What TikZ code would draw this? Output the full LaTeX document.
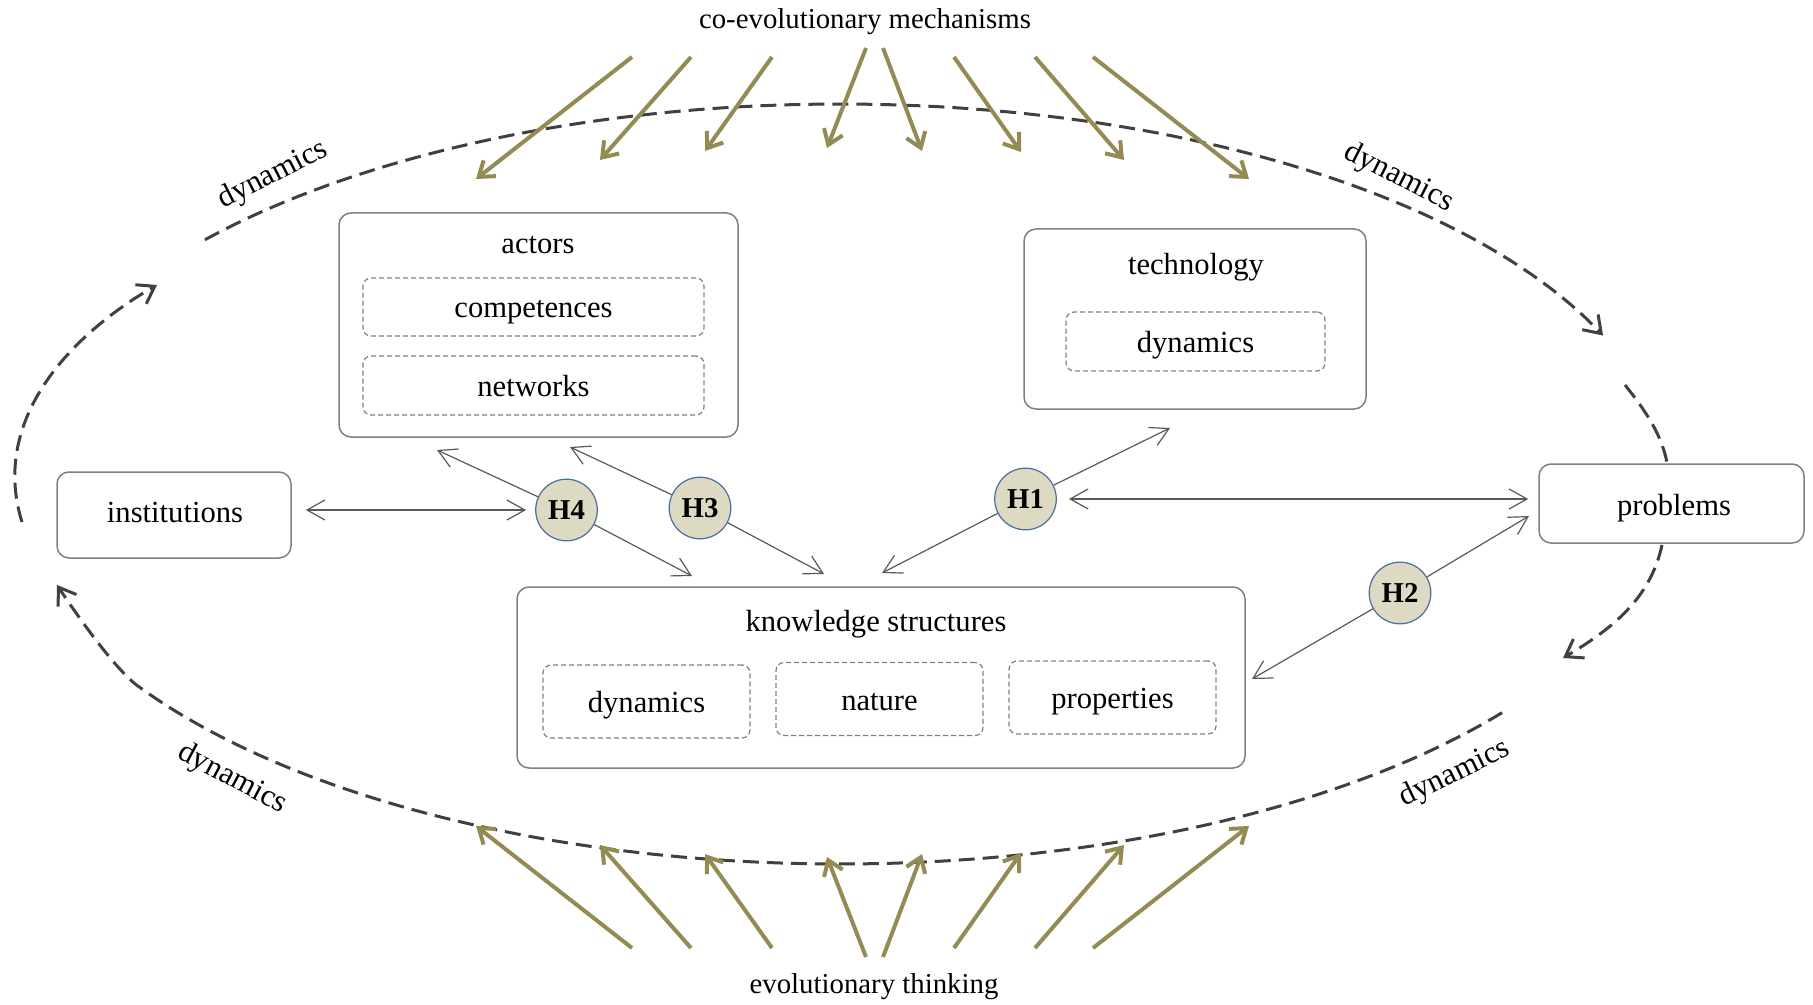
\documentclass[tikz,border=0pt]{standalone}
\usepackage{fontspec}
\setmainfont{Liberation Serif}
\usetikzlibrary{arrows.meta}

\definecolor{boxgray}{HTML}{7F7F7F}
\definecolor{linkgray}{HTML}{595959}
\definecolor{arcgray}{HTML}{404040}
\definecolor{mechol}{HTML}{948A54}
\definecolor{hypfill}{HTML}{DDD9C3}
\definecolor{hypline}{HTML}{4A6FA0}

\tikzset{
  mainbox/.style={draw=boxgray, line width=0.75pt, rounded corners=6pt, inner sep=0pt},
  subbox/.style={draw=boxgray, line width=0.6pt, dash pattern=on 2.5pt off 1.5pt,
    rounded corners=4pt, inner sep=0pt, minimum width=103.5pt, minimum height=36.5pt,
    text height=11pt, text depth=0pt, font=\fontsize{15.3}{18}\selectfont},
  lbl/.style={inner sep=0pt, anchor=base, font=\fontsize{15.3}{18}\selectfont},
  ttl/.style={inner sep=0pt, anchor=base, font=\fontsize{14.4}{17}\selectfont},
  arclbl/.style={inner sep=0pt, font=\fontsize{15.5}{18}\selectfont},
  hyp/.style={circle, draw=hypline, fill=hypfill, line width=0.6pt, minimum size=30.8pt,
    inner sep=0pt, font=\bfseries\fontsize{14.4}{17}\selectfont},
  garrow/.style={draw=linkgray, line width=0.6pt, -{Straight Barb[length=9pt,width=10pt]}},
  gboth/.style={draw=linkgray, line width=0.6pt,
    {Straight Barb[length=9pt,width=10pt]}-{Straight Barb[length=9pt,width=10pt]}},
  mecharrow/.style={draw=mechol, line width=2pt, -{Straight Barb[length=7pt,width=10pt]}},
  darc/.style={draw=arcgray, line width=1.5pt, dash pattern=on 8pt off 4pt},
  darcarrow/.style={darc, -{Straight Barb[length=8pt,width=11pt]}},
}

\begin{document}
\begin{tikzpicture}[x=0.5pt, y=-0.5pt]
\useasboundingbox (0,0) rectangle (1813,1005);

% dynamics cycle around the framework
\def\ecx{840}\def\ecy{484}\def\ea{829}\def\eb{380}
% top: from the left over the mechanisms towards problems
\draw[darcarrow] plot[domain=140:23, samples=90] ({\ecx+\ea*cos(\x)},{\ecy-\eb*sin(\x)});
% short piece entering problems from above
\draw[darc] (1625,385) .. controls (1645,410) and (1662,435) .. (1667,463);
% leaving problems downwards
\draw[darcarrow] (1662,545) .. controls (1650,600) and (1610,630) .. (1563,658);
% bottom: under the evolutionary thinking arrows towards institutions
\draw[darcarrow] plot[domain=-37:-148, samples=100] ({\ecx+\ea*cos(\x)},{\ecy-\eb*sin(\x)})
  .. controls (113,667) and (73.5,610) .. (57,585);
% left: from institutions back up to the top
\draw[darcarrow] (22,522) .. controls (-10,420) and (70,335) .. (157,285);

\node[arclbl, rotate=27]  (dynTL) at (273,175) {dynamics};
\node[arclbl, rotate=-27] (dynTR) at (1399,178) {dynamics};
\node[arclbl, rotate=-28] (dynBL) at (232,779) {dynamics};
\node[arclbl, rotate=26]  (dynBR) at (1455,774) {dynamics};

% titles
\node[ttl] (coevo) at (865,29) {co-evolutionary mechanisms};
\node[ttl] (evoth) at (874,993) {evolutionary thinking};

% mechanism arrows (top) and evolutionary thinking arrows (bottom)
\foreach \i/\sx/\sy/\ex/\ey in {1/632/57/476/179, 2/691/57/600/160, 3/772/57/705/151,
    4/866/48/827/148, 5/883/48/922/151, 6/954/57/1021/152, 7/1035/57/1124/160,
    8/1093/57/1249/179} {
  \coordinate (mt\i) at (\sx,\sy);
  \coordinate (mh\i) at (\ex,\ey);
  \draw[mecharrow] (mt\i) -- (mh\i);
  \coordinate (et\i) at (\sx,{1005-\sy});
  \coordinate (eh\i) at (\ex,{1005-\ey});
  \draw[mecharrow] (et\i) -- (eh\i);
}

% actors
\node[mainbox, minimum width=199.5pt, minimum height=112pt] (actors) at (538.5,325) {};
\node[lbl] (actorsT) at (538,254) {actors};
\node[subbox, minimum width=170.5pt, minimum height=29pt] (comp) at (533.5,307) {competences};
\node[subbox, minimum width=170.5pt, minimum height=29.5pt] (netw) at (533.5,385.5) {networks};

% technology
\node[mainbox, minimum width=171pt, minimum height=90pt] (tech) at (1195,319) {};
\node[lbl] (techT) at (1196,275) {technology};
\node[subbox, minimum width=129.5pt, minimum height=29.5pt] (techdyn) at (1195.5,341.5) {dynamics};

% institutions and problems
\node[mainbox, minimum width=117pt, minimum height=43pt] (inst) at (174,515) {};
\node[lbl] (instT) at (175,522) {institutions};
\node[mainbox, minimum width=132.5pt, minimum height=39.5pt] (prob) at (1671.5,503.5) {};
\node[lbl] (probT) at (1674,515) {problems};

% knowledge structures
\node[mainbox, minimum width=364pt, minimum height=90.5pt] (know) at (881,677.5) {};
\node[lbl] (knowT) at (876,631) {knowledge structures};
\node[subbox] (kdyn) at (646.5,701.5) {dynamics};
\node[subbox] (knat) at (879.5,699) {nature};
\node[subbox] (kprop) at (1112.5,697.5) {properties};

% hypotheses
\node[hyp] (h4) at (566.5,510) {H4};
\node[hyp] (h3) at (700,508) {H3};
\node[hyp] (h1) at (1025.5,499) {H1};
\node[hyp] (h2) at (1400,593) {H2};

\coordinate (h4a) at (437,450);  \coordinate (h4b) at (692,576);
\coordinate (h3a) at (570,447);  \coordinate (h3b) at (824,574);
\coordinate (h1a) at (1170,428); \coordinate (h1b) at (882,573);
\coordinate (h2a) at (1529,516); \coordinate (h2b) at (1252,679);

\draw[garrow] (h4) -- (h4a);
\draw[garrow] (h4) -- (h4b);
\draw[garrow] (h3) -- (h3a);
\draw[garrow] (h3) -- (h3b);
\draw[garrow] (h1) -- (h1a);
\draw[garrow] (h1) -- (h1b);
\draw[garrow] (h2) -- (h2a);
\draw[garrow] (h2) -- (h2b);

\draw[gboth, shorten <=7pt, shorten >=4.5pt] (inst.east |- h4) -- (h4.west);
\draw[gboth, shorten <=6pt, shorten >=5pt] (h1.east) -- (h1 -| prob.west);

\end{tikzpicture}
\end{document}
